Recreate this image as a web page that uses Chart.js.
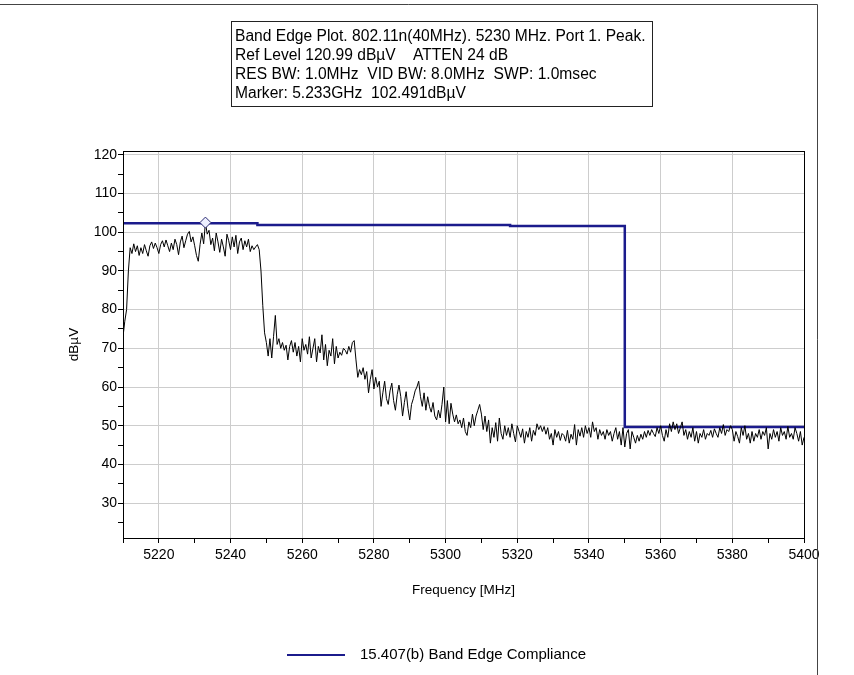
<!DOCTYPE html>
<html>
<head>
<meta charset="utf-8">
<script src="https://cdn.jsdelivr.net/npm/chart.js@4.4.1/dist/chart.umd.min.js"></script>
<style>
html,body{margin:0;padding:0;background:#fff;}
#wrap{position:relative;width:854px;height:675px;}
</style>
</head>
<body>
<div id="wrap"><canvas id="c" width="854" height="675"></canvas></div>
<script>
// ---- text ----
const headerLines = [
  "Band Edge Plot. 802.11n(40MHz). 5230 MHz. Port 1. Peak.",
  "Ref Level 120.99 dB\u00b5V    ATTEN 24 dB",
  "RES BW: 1.0MHz  VID BW: 8.0MHz  SWP: 1.0msec",
  "Marker: 5.233GHz  102.491dB\u00b5V"
];
const xAxisTitle = "Frequency [MHz]";
const yAxisTitle = "dB\u00b5V";
const limitLabel = "15.407(b) Band Edge Compliance";

// ---- sweep (0.5 MHz per point, 5210 .. 5400 MHz) ----
const traceStartMHz = 5210;
const traceStepMHz = 0.5;
const traceLevel = [
  73, 77, 80, 90, 96, 94.5, 97, 95, 96.5, 94,
  96, 94.5, 96.8, 95.2, 93.8, 96.5, 97.5, 95.8, 97.2, 96,
  94.5, 96.8, 97.8, 96.2, 98, 96.5, 95, 97.2, 95.5, 98.2,
  96.8, 94.2, 97.5, 99, 96, 97.8, 99.5, 100.2, 97.5, 98.8,
  96.5, 94, 92.5, 96.8, 99.8, 97, 102.5, 99.5, 100.5, 96.8,
  98.5, 95.2, 99.8, 97.5, 94.8, 98.2, 96.2, 93.8, 99.5, 97.8,
  95.5, 98.8, 96.2, 99.2, 94.5, 97.5, 98.5, 95.5, 97.8, 96.2,
  98.2, 95, 96.5, 95.5, 96.2, 96.8, 95.5, 90, 81, 74,
  71.5, 68, 72.5, 67.5, 73, 78.5, 71, 72.5, 70, 71.5,
  69.5, 70.8, 67, 70.5, 72, 69, 71.5, 68, 70.5, 66.5,
  72.5, 69.5, 71, 68.5, 73, 67.5, 70, 72.5, 66.5, 70.5,
  68.8, 73.5, 67, 71, 65.5, 69.5, 68, 72.5, 66, 70.5,
  67.5, 69, 68.2, 70, 69.5, 68.5, 70.5, 69, 71.5, 72,
  67, 62.5, 64.5, 63.2, 65, 62, 64, 58.5, 62, 64.5,
  59.5, 62.5, 60, 61.5, 55, 58.5, 61.5, 57, 55.5, 59,
  61, 56.5, 54, 58, 60.5, 57.5, 52.5, 56, 58.8, 54.5,
  51.5, 55.5, 57, 59, 60, 61.5, 57.5, 55, 58.5, 54,
  57.5, 55, 53.5, 56, 52.5, 51.5, 54, 52, 55.5, 60,
  51, 56.5, 50.5, 55.8, 53, 51, 52.8, 50.5, 51.5, 49.5,
  52, 48.5, 47.5, 51, 49.5, 53, 50, 52.5, 54, 55.5,
  53, 49, 52.5, 48.5, 51.5, 45.5, 49.5, 47, 50.8, 46,
  52, 48, 46.5, 50, 47.5, 49.5, 47, 50.5, 48, 45.8,
  50, 48.5, 47, 49.2, 45.5, 48.5, 47, 49.5, 46, 48.8,
  47.5, 50.5, 49, 50, 48.5, 49.8, 47.8, 49.5, 46.5, 48,
  45, 49, 47, 48.5, 46.2, 48, 47.5, 46, 48.8, 45.5,
  47.8, 46.5, 50.3, 45, 49, 47.3, 49.5, 47, 50, 48,
  49.5, 47, 51, 48.5, 49.5, 46.5, 49, 47.5, 48.5, 46.5,
  49, 47.5, 48.5, 46, 48, 49.5, 46.5, 48.5, 45, 49.5,
  44.5, 48, 49, 44, 48.5, 47, 45.5, 47.5, 46, 47.8,
  46.5, 48.5, 47, 48.8, 47.5, 49, 48, 47.2, 49.5, 48,
  50, 47.5, 46, 49, 47, 50.5, 48.5, 51, 49, 50.5,
  48, 49.5, 51, 47.5, 49, 46.5, 48.5, 47, 49.5, 46,
  48.5, 45.5, 48, 47, 49, 46.5, 48, 47.5, 48.8, 47,
  49.2, 48, 47, 49.5, 48, 50.3, 47.5, 49, 48.5, 50,
  49, 46, 48.5, 47.2, 45.5, 49.5, 47.5, 50, 46.5, 48,
  45.5, 48.5, 46, 48, 47, 49, 46.5, 48.5, 47.5, 49.5,
  44, 48, 46.5, 49, 47, 48.5, 46, 49.5, 47.5, 48.5,
  46.5, 49.8, 47, 48, 46.5, 49.5, 48, 46, 48.5, 45,
  47
];

// ---- limit line ----
const limitFreq  = [5210, 5247.5, 5247.5, 5318, 5318, 5350, 5350, 5400];
const limitLevel = [102.3, 102.3, 101.9, 101.9, 101.6, 101.6, 49.7, 49.7];

// ---- marker ----
const markerFreq = [5233];
const markerLevel = [102.491];

// ---- axes ----
const xMin = 5210, xMax = 5400;
const yMin = 20.99, yMax = 120.99;
const xTickValues = [5210,5220,5230,5240,5250,5260,5270,5280,5290,5300,5310,5320,5330,5340,5350,5360,5370,5380,5390,5400];
const xLabelValues = [5220,5240,5260,5280,5300,5320,5340,5360,5380,5400];
const yTickValues = [25,30,35,40,45,50,55,60,65,70,75,80,85,90,95,100,105,110,115,120];
const yLabelValues = [30,40,50,60,70,80,90,100,110,120];

const traceData = traceLevel.map((v, i) => ({x: traceStartMHz + i * traceStepMHz, y: v}));
const limitData = limitFreq.map((f, i) => ({x: f, y: limitLevel[i]}));
const markerData = markerFreq.map((f, i) => ({x: f, y: markerLevel[i]}));

const FONT = "'Liberation Sans', Arial, sans-serif";
const TICK_SIZE = 14;
const TITLE_SIZE = 13.5;

const LIMIT_COLOR = '#1b1b8c';
const GRID_COLOR = '#cdcdcd';

const decorPlugin = {
  id: 'decor',
  afterDraw(chart) {
    const ctx = chart.ctx;
    const a = chart.chartArea;
    ctx.save();
    // plot frame
    ctx.strokeStyle = '#000';
    ctx.lineWidth = 1;
    ctx.strokeRect(Math.round(a.left) + 0.5, Math.round(a.top) + 0.5,
                   Math.round(a.right - a.left), Math.round(a.bottom - a.top));
    // outer window frame
    ctx.strokeStyle = '#444';
    ctx.beginPath();
    ctx.moveTo(0, 4.5); ctx.lineTo(817.5, 4.5); ctx.lineTo(817.5, 675);
    ctx.stroke();
    // header box
    ctx.strokeStyle = '#222';
    ctx.strokeRect(231.5, 21.5, 421, 85);
    ctx.fillStyle = '#000';
    ctx.font = "15.6px " + FONT;
    ctx.textBaseline = 'middle';
    ctx.textAlign = 'left';
    headerLines.forEach((t, i) => ctx.fillText(t, 235, 37 + i * 19));
    // legend
    const ds = chart.data.datasets[2];
    ctx.strokeStyle = ds.borderColor;
    ctx.lineWidth = 2;
    ctx.beginPath();
    ctx.moveTo(287, 655); ctx.lineTo(345, 655);
    ctx.stroke();
    ctx.font = "15px " + FONT;
    ctx.fillText(ds.label, 360, 655);
    ctx.restore();
  }
};

new Chart(document.getElementById('c'), {
  type: 'line',
  data: {
    datasets: [
      {
        label: 'Marker',
        type: 'scatter',
        data: markerData,
        pointStyle: 'rectRot',
        pointRadius: 5.5,
        borderColor: '#2a2a70',
        backgroundColor: '#eef0ff',
        borderWidth: 1,
        showLine: false
      },
      {
        label: 'Trace',
        data: traceData,
        borderColor: '#000',
        borderWidth: 1,
        pointRadius: 0,
        tension: 0,
        fill: false
      },
      {
        label: limitLabel,
        data: limitData,
        borderColor: LIMIT_COLOR,
        borderWidth: 2.5,
        pointRadius: 0,
        tension: 0,
        fill: false
      }
    ]
  },
  options: {
    responsive: false,
    animation: false,
    devicePixelRatio: 1,
    events: [],
    layout: { padding: { left: 0, top: 151, right: 50, bottom: 67 } },
    plugins: {
      legend: { display: false },
      tooltip: { enabled: false },
      title: { display: false }
    },
    scales: {
      x: {
        type: 'linear',
        min: xMin,
        max: xMax,
        afterBuildTicks: s => { s.ticks = xTickValues.map(v => ({value: v})); },
        afterFit: s => { s.height = 70; },
        ticks: {
          autoSkip: false,
          maxRotation: 0,
          padding: 4,
          color: '#000',
          font: { family: FONT, size: TICK_SIZE },
          callback: v => xLabelValues.includes(v) ? String(v) : ''
        },
        grid: {
          color: c => (c.tick && xLabelValues.includes(c.tick.value)) ? GRID_COLOR : 'rgba(0,0,0,0)',
          tickColor: '#000',
          tickLength: 5,
          lineWidth: 1
        },
        border: { display: true, color: '#000', width: 1 },
        title: {
          display: true,
          text: xAxisTitle,
          color: '#000',
          font: { family: FONT, size: TITLE_SIZE },
          padding: { top: 4, bottom: 9.5 }
        }
      },
      y: {
        type: 'linear',
        min: yMin,
        max: yMax,
        afterBuildTicks: s => { s.ticks = yTickValues.map(v => ({value: v})); },
        afterFit: s => { s.width = 123; },
        ticks: {
          autoSkip: false,
          padding: 1,
          color: '#000',
          font: { family: FONT, size: TICK_SIZE },
          callback: v => yLabelValues.includes(v) ? String(v) : ''
        },
        grid: {
          color: c => (c.tick && yLabelValues.includes(c.tick.value)) ? GRID_COLOR : 'rgba(0,0,0,0)',
          tickColor: '#000',
          tickLength: 5,
          lineWidth: 1
        },
        border: { display: true, color: '#000', width: 1 },
        title: {
          display: true,
          text: yAxisTitle,
          color: '#000',
          font: { family: FONT, size: TITLE_SIZE },
          padding: { top: 66.5, bottom: 4 }
        }
      }
    }
  },
  plugins: [decorPlugin]
});
</script>
</body>
</html>
